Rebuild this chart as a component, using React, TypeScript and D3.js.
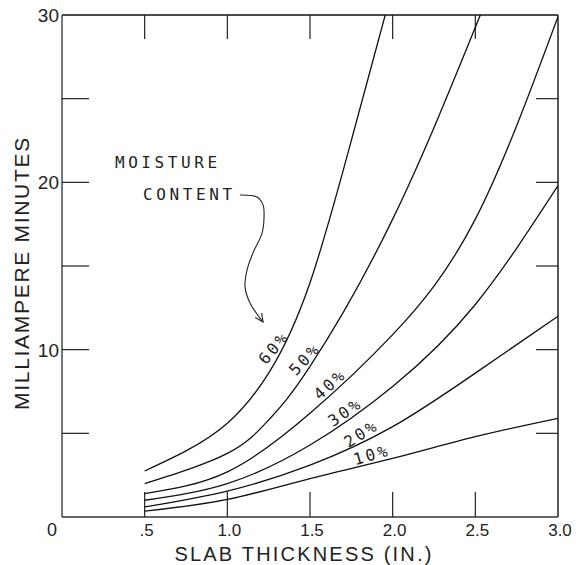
import React from "react";
import * as d3 from "d3";

const W = 576;
const H = 565;

// Curve data (slab thickness in inches -> milliampere minutes)
const thickness = [0.5, 1.0, 1.5, 2.0, 2.5, 3.0];
const mam10 = [0.35, 1.05, 2.3, 3.5, 4.8, 5.9];
const mam20 = [0.6, 1.55, 3.1, 5.4, 8.6, 12.0];
const mam30 = [1.0, 2.0, 4.3, 7.8, 12.7, 19.8];
const mam40 = [1.4, 2.7, 6.2, 10.9, 17.8, 29.9];
const thickness50 = [0.5, 1.0, 1.25, 1.5, 2.0, 2.53];
const mam50 = [2.0, 3.8, 5.8, 9.0, 17.8, 30];
const thickness60 = [0.5, 0.75, 1.0, 1.25, 1.5, 1.75, 1.955];
const mam60 = [2.75, 3.95, 5.6, 8.6, 14.0, 22.5, 30];

// Curve labels (x position along the curve, rotation)
const moistureLabels = ["10%", "20%", "30%", "40%", "50%", "60%"];
const labelX = [1.887, 1.838, 1.742, 1.655, 1.506, 1.32];
const labelAngle = [-16, -32, -35, -42, -47, -50];

// Axes
const xTicks = [0.5, 1.0, 1.5, 2.0, 2.5, 3.0];
const xTickLabels = [".5", "1.0", "1.5", "2.0", "2.5", "3.0"];
const xInnerTicks = [0.5, 1.0, 1.5, 2.0, 2.5];
const yTicks = [10, 20, 30];
const yTickLabels = ["10", "20", "30"];
const yInnerTicks = [5, 10, 15, 20, 25];

// Annotation arrow path (data units)
const arrowX = [1.077, 1.179, 1.216, 1.222, 1.21, 1.155, 1.119, 1.107, 1.137, 1.216];
const arrowY = [19.24, 19.12, 18.65, 17.93, 16.97, 15.78, 14.76, 13.75, 12.79, 11.65];

const annotationLines = ["MOISTURE", "CONTENT"];
const annotationX = [0.32, 0.49];
const annotationY = [20.86, 18.95];

function interp(xs: number[], ys: number[], v: number) {
  for (let i = 0; i < xs.length - 1; i++) {
    if (v >= xs[i] && v <= xs[i + 1]) {
      const t = (v - xs[i]) / (xs[i + 1] - xs[i]);
      return ys[i] + t * (ys[i + 1] - ys[i]);
    }
  }
  return ys[ys.length - 1];
}

export default function App() {
  const x = d3.scaleLinear().domain([0, 3]).range([62, 558]);
  const y = d3.scaleLinear().domain([0, 30]).range([517, 15]);

  const line = d3
    .line<[number, number]>()
    .x((d) => x(d[0]))
    .y((d) => y(d[1]))
    .curve(d3.curveNatural);

  const seriesX = [thickness, thickness, thickness, thickness, thickness50, thickness60];
  const seriesY = [mam10, mam20, mam30, mam40, mam50, mam60];
  const series: [number, number][][] = seriesX.map((xs, k) =>
    xs.map((t, i) => [t, seriesY[k][i]] as [number, number])
  );

  // label anchor points on the drawn curves (sample the path)
  const labelPos = labelX.map((lx, k) => {
    const el = typeof document !== "undefined" ? document.createElementNS("http://www.w3.org/2000/svg", "path") : null;
    if (el) {
      el.setAttribute("d", line(series[k]) || "");
      const len = el.getTotalLength ? el.getTotalLength() : 0;
      if (len > 0) {
        const target = x(lx);
        let lo = 0, hi = len;
        for (let it = 0; it < 40; it++) {
          const mid = (lo + hi) / 2;
          const p = el.getPointAtLength(mid);
          if (p.x < target) lo = mid; else hi = mid;
        }
        const p = el.getPointAtLength((lo + hi) / 2);
        if (isFinite(p.x) && isFinite(p.y) && p.y !== 0) return [p.x, p.y];
      }
    }
    return [x(lx), y(interp(seriesX[k], seriesY[k], lx))];
  });

  const arrowPts = arrowX.map((a, i) => [a, arrowY[i]] as [number, number]);
  const n = arrowPts.length;
  const tip = [x(arrowPts[n - 1][0]), y(arrowPts[n - 1][1])];
  const prev = [x(arrowPts[n - 2][0]), y(arrowPts[n - 2][1])];
  const ang = Math.atan2(tip[1] - prev[1], tip[0] - prev[0]);
  const barb = 9;
  const b1 = [tip[0] + barb * Math.cos(ang + Math.PI - 0.45), tip[1] + barb * Math.sin(ang + Math.PI - 0.45)];
  const b2 = [tip[0] + barb * Math.cos(ang + Math.PI + 0.45), tip[1] + barb * Math.sin(ang + Math.PI + 0.45)];

  const arrowLine = d3
    .line<[number, number]>()
    .x((d) => x(d[0]))
    .y((d) => y(d[1]))
    .curve(d3.curveCatmullRom.alpha(0.5));

  const x0 = x(0), x1 = x(3), y0 = y(0), y1 = y(30);
  const sans = "'Liberation Sans', Arial, sans-serif";
  const mono = "'DejaVu Sans Mono', 'Liberation Mono', monospace";

  return (
    <svg
      width={W}
      height={H}
      viewBox={`0 0 ${W} ${H}`}
      style={{ position: "absolute", left: 0, top: 0, background: "#fff" }}
    >
      <defs>
        <clipPath id="plot">
          <rect x={x0} y={y1} width={x1 - x0} height={y0 - y1} />
        </clipPath>
      </defs>

      {/* frame */}
      <line x1={x0} y1={y1} x2={x1} y2={y1} stroke="#111" strokeWidth={1.3} />
      <line x1={x1} y1={y1} x2={x1} y2={y0} stroke="#111" strokeWidth={1.4} />
      <line x1={x0} y1={y1} x2={x0} y2={y0} stroke="#555" strokeWidth={1.6} />
      <line x1={x0} y1={y0} x2={x1} y2={y0} stroke="#333" strokeWidth={1.6} />

      {/* inner ticks */}
      {xInnerTicks.map((t) => (
        <g key={"xt" + t}>
          <line x1={x(t)} x2={x(t)} y1={y0} y2={y0 - 25} stroke="#222" strokeWidth={1.2} />
          <line x1={x(t)} x2={x(t)} y1={y1} y2={y1 + 24} stroke="#222" strokeWidth={1.2} />
        </g>
      ))}
      {yInnerTicks.map((t) => (
        <g key={"yt" + t}>
          <line x1={x0} x2={x0 + 27} y1={y(t)} y2={y(t)} stroke="#222" strokeWidth={1.2} />
          <line x1={x1} x2={x1 - 22} y1={y(t)} y2={y(t)} stroke="#222" strokeWidth={1.2} />
        </g>
      ))}

      {/* curves */}
      <g clipPath="url(#plot)">
        {series.map((s, i) => (
          <path key={"c" + i} d={line(s) || ""} fill="none" stroke="#111" strokeWidth={1.3} />
        ))}
      </g>

      {/* curve labels */}
      {moistureLabels.map((lab, i) => (
        <text
          key={"l" + i}
          transform={`translate(${labelPos[i][0]},${labelPos[i][1]}) rotate(${labelAngle[i]})`}
          textAnchor="middle"
          y={-3}
          fontFamily={mono}
          fontSize={16}
          letterSpacing={2.8}
          fill="#222"
        >
          {lab}
        </text>
      ))}

      {/* annotation */}
      {annotationLines.map((t, i) => (
        <text
          key={"a" + i}
          x={x(annotationX[i])}
          y={y(annotationY[i])}
          fontFamily={mono}
          fontSize={16}
          letterSpacing={3.6}
          fill="#222"
        >
          {t}
        </text>
      ))}
      <path d={arrowLine(arrowPts) || ""} fill="none" stroke="#222" strokeWidth={1.1} />
      <path
        d={`M${b1[0]},${b1[1]}L${tip[0]},${tip[1]}L${b2[0]},${b2[1]}`}
        fill="none"
        stroke="#222"
        strokeWidth={1.1}
      />

      {/* tick labels */}
      {xTicks.map((t, i) => (
        <text key={"xl" + t} x={x(t) + 2} y={y0 + 19} textAnchor="middle" fontFamily={sans} fontSize={17} fill="#222">
          {xTickLabels[i]}
        </text>
      ))}
      {yTicks.map((t, i) => (
        <text key={"yl" + t} x={x0 - 3} y={y(t)} dy="0.36em" textAnchor="end" fontFamily={sans} fontSize={19} fill="#222">
          {yTickLabels[i]}
        </text>
      ))}
      <text x={x0 - 10} y={y0 + 19} textAnchor="middle" fontFamily={sans} fontSize={18} fill="#222">
        0
      </text>

      {/* axis titles */}
      <text
        x={304}
        y={561}
        textAnchor="middle"
        fontFamily={sans}
        fontSize={20}
        letterSpacing={2.2}
        fill="#222"
      >
        SLAB THICKNESS (IN.)
      </text>
      <text
        transform={`translate(29,${273}) rotate(-90)`}
        textAnchor="middle"
        fontFamily={sans}
        fontSize={21}
        letterSpacing={1.7}
        fill="#222"
      >
        MILLIAMPERE MINUTES
      </text>
    </svg>
  );
}
